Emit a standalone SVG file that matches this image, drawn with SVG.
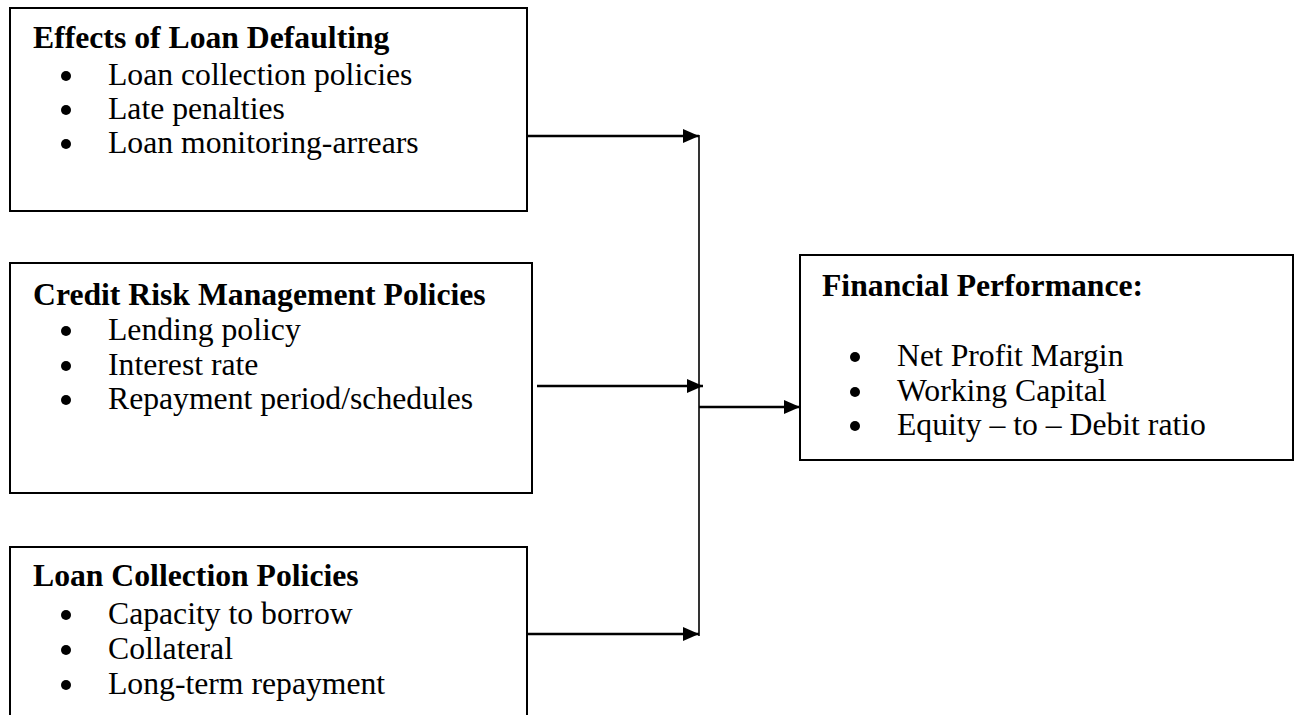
<svg xmlns="http://www.w3.org/2000/svg" width="1299" height="715" viewBox="0 0 1299 715">
  <style>
    .box { fill: #ffffff; stroke: #000000; stroke-width: 2; }
    .title { font-family: "Liberation Serif", "Times New Roman", serif; font-weight: bold; font-size: 31.7px; fill: #000; }
    .item { font-family: "Liberation Serif", "Times New Roman", serif; font-size: 31.7px; fill: #000; }
    .dot { fill: #000; }
    .conn { fill: none; stroke: #000; stroke-width: 2.6; }
    .bus { fill: none; stroke: #000; stroke-width: 1.6; }
  </style>
  <defs>
    <marker id="arrow" viewBox="0 0 16 14" refX="16" refY="7" markerWidth="16" markerHeight="14" markerUnits="userSpaceOnUse" orient="auto">
      <path d="M0,0 L16,7 L0,14 z" fill="#000"/>
    </marker>
  </defs>
  <rect width="1299" height="715" fill="#ffffff"/>

  <g id="effects-of-loan-defaulting">
    <rect class="box" x="10" y="8" width="517" height="203"/>
    <text class="title" x="33" y="48">Effects of Loan Defaulting</text>
    <circle class="dot" cx="66" cy="76" r="5"/>
    <text class="item" x="108" y="85">Loan collection policies</text>
    <circle class="dot" cx="66" cy="110" r="5"/>
    <text class="item" x="108" y="119">Late penalties</text>
    <circle class="dot" cx="66" cy="144" r="5"/>
    <text class="item" x="108" y="153">Loan monitoring-arrears</text>
  </g>

  <g id="credit-risk-management-policies">
    <rect class="box" x="10" y="263" width="522" height="230"/>
    <text class="title" x="33" y="305">Credit Risk Management Policies</text>
    <circle class="dot" cx="66" cy="331" r="5"/>
    <text class="item" x="108" y="340">Lending policy</text>
    <circle class="dot" cx="66" cy="366" r="5"/>
    <text class="item" x="108" y="375">Interest rate</text>
    <circle class="dot" cx="66" cy="400" r="5"/>
    <text class="item" x="108" y="409">Repayment period/schedules</text>
  </g>

  <g id="loan-collection-policies">
    <rect class="box" x="10" y="547" width="517" height="180"/>
    <text class="title" x="33" y="586">Loan Collection Policies</text>
    <circle class="dot" cx="66" cy="615" r="5"/>
    <text class="item" x="108" y="624">Capacity to borrow</text>
    <circle class="dot" cx="66" cy="650" r="5"/>
    <text class="item" x="108" y="659">Collateral</text>
    <circle class="dot" cx="66" cy="685" r="5"/>
    <text class="item" x="108" y="694">Long-term repayment</text>
  </g>

  <g id="financial-performance">
    <rect class="box" x="800" y="255" width="493" height="205"/>
    <text class="title" x="822" y="296">Financial Performance:</text>
    <circle class="dot" cx="855" cy="357" r="5"/>
    <text class="item" x="897" y="366">Net Profit Margin</text>
    <circle class="dot" cx="855" cy="392" r="5"/>
    <text class="item" x="897" y="401">Working Capital</text>
    <circle class="dot" cx="855" cy="426" r="5"/>
    <text class="item" x="897" y="435">Equity – to – Debit ratio</text>
  </g>

  <g id="connectors">
    <line class="conn" x1="526" y1="136" x2="699" y2="136" marker-end="url(#arrow)"/>
    <line class="conn" x1="537" y1="386" x2="703" y2="386" marker-end="url(#arrow)"/>
    <line class="conn" x1="527" y1="634" x2="699" y2="634" marker-end="url(#arrow)"/>
    <line class="bus" x1="699" y1="135" x2="699" y2="636"/>
    <line class="conn" x1="699" y1="407" x2="800" y2="407" marker-end="url(#arrow)"/>
  </g>
</svg>
